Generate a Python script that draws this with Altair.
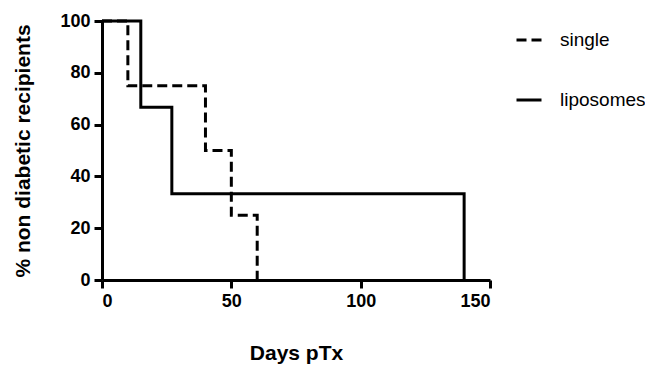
import altair as alt
import pandas as pd

# Kaplan-Meier style step data
single_days = [0, 10, 40, 50, 60]
single_pct = [100, 75, 50, 25, 0]
lipo_days = [0, 15, 27, 140]
lipo_pct = [100, 66.7, 33.3, 0]

groups = ["single", "liposomes"]

df = pd.DataFrame({
    "days": single_days + lipo_days,
    "pct": single_pct + lipo_pct,
    "group": ["single"] * len(single_days) + ["liposomes"] * len(lipo_days),
})

FONT = "Liberation Sans"

chart = alt.Chart(df).mark_line(
    interpolate="step-after", strokeWidth=3, color="black", strokeCap="butt", strokeJoin="miter"
).encode(
    x=alt.X("days:Q", scale=alt.Scale(domain=[0, 150], nice=False),
            axis=alt.Axis(values=[0, 50, 100, 150], title="Days pTx", grid=False,
                          titlePadding=32)),
    y=alt.Y("pct:Q", scale=alt.Scale(domain=[0, 100], nice=False),
            axis=alt.Axis(values=[0, 20, 40, 60, 80, 100], title="% non diabetic recipients",
                          grid=False, titlePadding=26)),
    strokeDash=alt.StrokeDash("group:N",
                              scale=alt.Scale(domain=groups, range=[[10, 5], [1, 0]]),
                              legend=alt.Legend(title=None, orient="none", legendX=413, legendY=5,
                                                symbolType="stroke", symbolSize=625,
                                                symbolStrokeWidth=3, symbolStrokeColor="black",
                                                labelFont=FONT, labelFontSize=19,
                                                labelFontWeight="normal", labelColor="black",
                                                labelOffset=17, rowPadding=36, padding=0)),
    detail="group:N",
).properties(
    width=388, height=259,
    autosize=alt.AutoSizeParams(type="none"),
    padding={"left": 94, "top": 13, "right": 155, "bottom": 84},
).configure_view(stroke=None).configure_axis(
    domainColor="black", domainWidth=3, tickColor="black", tickWidth=3, tickSize=8,
    labelFont=FONT, labelFontSize=18, labelFontWeight="bold", labelColor="black",
    labelPadding=4, titleFont=FONT, titleFontSize=21, titleFontWeight="bold",
    titleColor="black",
)

chart.save("out.html", embed_options={"renderer": "svg", "actions": False})
